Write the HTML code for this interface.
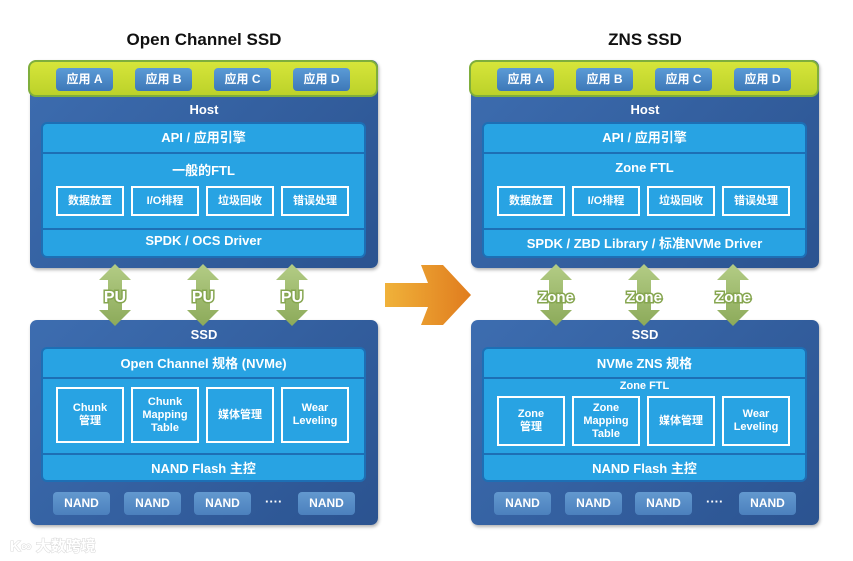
<!DOCTYPE html>
<html><head><meta charset="utf-8"><style>
*{margin:0;padding:0;box-sizing:border-box}
body{width:853px;height:561px;background:#fff;position:relative;overflow:hidden;font-family:"Liberation Sans","Noto Sans CJK SC",sans-serif;font-weight:bold}
.a{position:absolute}
.t{position:absolute;color:#111;font-size:17px;text-align:center;top:30px}
.col{position:absolute;top:0;width:360px;height:561px}
.host{position:absolute;left:1px;top:60px;width:348px;height:208px;border-radius:7px;background:linear-gradient(135deg,#3d6db0,#2b5390);box-shadow:1px 2px 3px rgba(0,0,0,.3)}
.green{position:absolute;left:-1px;top:60px;width:350px;height:37px;border-radius:8px;background:linear-gradient(#d6e53a,#bcd22a);border:2px solid #7fae3c}
.app{position:absolute;top:6px;width:57px;height:23px;border-radius:4px;background:linear-gradient(#5b9bd6,#3d78b8);color:#fff;font-size:12px;line-height:23px;text-align:center}
.lbl{position:absolute;left:0;width:350px;text-align:center;color:#fff;font-size:13px}
.inner{position:absolute;left:12px;width:325px;background:#28a3e3;border-radius:6px;border:2px solid #1d6fb5;overflow:hidden}
.row{position:absolute;left:0;width:321px;text-align:center;color:#fff;font-size:13px}
.sep{position:absolute;left:0;width:321px;height:2px;background:#1d6fb5}
.bx{position:absolute;width:68px;border:2px solid #fff;color:#fff;font-size:11px;display:flex;align-items:center;justify-content:center;text-align:center;line-height:13px}
.ssd{position:absolute;left:1px;top:320px;width:348px;height:205px;border-radius:7px;background:linear-gradient(135deg,#3d6db0,#2b5390);box-shadow:1px 2px 3px rgba(0,0,0,.3)}
.nand{position:absolute;top:492px;width:57px;height:23px;border-radius:4px;background:linear-gradient(#6399cf,#4c80bd);color:#fff;font-size:12px;line-height:23px;text-align:center}
</style></head><body>
<div class="t" style="left:104px;width:200px">Open Channel SSD</div>
<div class="t" style="left:545px;width:200px">ZNS SSD</div>

<!-- LEFT -->
<div class="col" style="left:29px">
 <div class="host"></div>
 <div class="green">
  <div class="app" style="left:26px">应用 A</div><div class="app" style="left:105px">应用 B</div><div class="app" style="left:184px">应用 C</div><div class="app" style="left:263px">应用 D</div>
 </div>
 <div class="lbl" style="top:102px">Host</div>
 <div class="inner" style="top:122px;height:136px">
  <div class="row" style="top:3px">API / 应用引擎</div>
  <div class="sep" style="top:28px"></div>
  <div class="row" style="top:36px">一般的FTL</div>
  <div class="bx" style="left:13px;top:62px;height:30px">数据放置</div>
  <div class="bx" style="left:88px;top:62px;height:30px">I/O排程</div>
  <div class="bx" style="left:163px;top:62px;height:30px">垃圾回收</div>
  <div class="bx" style="left:238px;top:62px;height:30px">错误处理</div>
  <div class="sep" style="top:104px"></div>
  <div class="row" style="top:109px">SPDK / OCS Driver</div>
 </div>
 <div class="ssd"></div>
 <div class="lbl" style="top:327px">SSD</div>
 <div class="inner" style="top:347px;height:135px">
  <div class="row" style="top:4px">Open Channel 规格 (NVMe)</div>
  <div class="sep" style="top:28px"></div>
  <div class="bx" style="left:13px;top:38px;height:56px">Chunk<br>管理</div>
  <div class="bx" style="left:88px;top:38px;height:56px">Chunk<br>Mapping<br>Table</div>
  <div class="bx" style="left:163px;top:38px;height:56px">媒体管理</div>
  <div class="bx" style="left:238px;top:38px;height:56px">Wear<br>Leveling</div>
  <div class="sep" style="top:104px"></div>
  <div class="row" style="top:109px">NAND Flash 主控</div>
 </div>
 <div class="nand" style="left:24px">NAND</div><div class="nand" style="left:95px">NAND</div><div class="nand" style="left:165px">NAND</div>
 <div class="a" style="left:236px;top:494px;color:#fff;font-size:13px">····</div>
 <div class="nand" style="left:269px">NAND</div>
</div>

<!-- RIGHT -->
<div class="col" style="left:470px">
 <div class="host"></div>
 <div class="green">
  <div class="app" style="left:26px">应用 A</div><div class="app" style="left:105px">应用 B</div><div class="app" style="left:184px">应用 C</div><div class="app" style="left:263px">应用 D</div>
 </div>
 <div class="lbl" style="top:102px">Host</div>
 <div class="inner" style="top:122px;height:136px">
  <div class="row" style="top:3px">API / 应用引擎</div>
  <div class="sep" style="top:28px"></div>
  <div class="row" style="top:36px">Zone FTL</div>
  <div class="bx" style="left:13px;top:62px;height:30px">数据放置</div>
  <div class="bx" style="left:88px;top:62px;height:30px">I/O排程</div>
  <div class="bx" style="left:163px;top:62px;height:30px">垃圾回收</div>
  <div class="bx" style="left:238px;top:62px;height:30px">错误处理</div>
  <div class="sep" style="top:104px"></div>
  <div class="row" style="top:109px">SPDK / ZBD Library / 标准NVMe Driver</div>
 </div>
 <div class="ssd"></div>
 <div class="lbl" style="top:327px">SSD</div>
 <div class="inner" style="top:347px;height:135px">
  <div class="row" style="top:4px">NVMe ZNS 规格</div>
  <div class="sep" style="top:28px"></div>
  <div class="row" style="top:31px;font-size:11px">Zone FTL</div>
  <div class="bx" style="left:13px;top:47px;height:50px">Zone<br>管理</div>
  <div class="bx" style="left:88px;top:47px;height:50px">Zone<br>Mapping<br>Table</div>
  <div class="bx" style="left:163px;top:47px;height:50px">媒体管理</div>
  <div class="bx" style="left:238px;top:47px;height:50px">Wear<br>Leveling</div>
  <div class="sep" style="top:104px"></div>
  <div class="row" style="top:109px">NAND Flash 主控</div>
 </div>
 <div class="nand" style="left:24px">NAND</div><div class="nand" style="left:95px">NAND</div><div class="nand" style="left:165px">NAND</div>
 <div class="a" style="left:236px;top:494px;color:#fff;font-size:13px">····</div>
 <div class="nand" style="left:269px">NAND</div>
</div>

<svg class="a" style="left:0;top:0" width="853" height="561">
 <defs><linearGradient id="g" x1="0" y1="0" x2="0" y2="1"><stop offset="0" stop-color="#b3cc85"/><stop offset="1" stop-color="#8caa5a"/></linearGradient>
 <linearGradient id="o" x1="0" y1="0" x2="1" y2="0"><stop offset="0" stop-color="#f0b23a"/><stop offset="1" stop-color="#e07c1e"/></linearGradient></defs>
 <g fill="url(#g)">
  <path id="da" d="M115 264 L131 280 L122 280 L122 310 L131 310 L115 326 L99 310 L108 310 L108 280 L99 280 Z"/>
  <use href="#da" x="88"/><use href="#da" x="177"/>
  <use href="#da" x="441"/><use href="#da" x="529"/><use href="#da" x="618"/>
 </g>
 <path d="M385 283 L428 283 L421 265 L443 265 L471 295 L443 325 L421 325 L428 307 L385 307 Z" fill="url(#o)"/>
 <g font-family="Liberation Sans, sans-serif" font-weight="bold" text-anchor="middle" fill="#fff" stroke="#86a650" stroke-width="3" paint-order="stroke">
  <text x="115" y="302" font-size="16">PU</text><text x="203" y="302" font-size="16">PU</text><text x="292" y="302" font-size="16">PU</text>
  <text x="556" y="302" font-size="15">Zone</text><text x="644" y="302" font-size="15">Zone</text><text x="733" y="302" font-size="15">Zone</text>
 </g>
 <text x="10" y="551" font-family="Liberation Sans, Noto Sans CJK SC, sans-serif" font-size="15" fill="#fff" stroke="#d8d8d8" stroke-width="1" paint-order="stroke">K∞ 大数跨境</text>
</svg>
</body></html>
